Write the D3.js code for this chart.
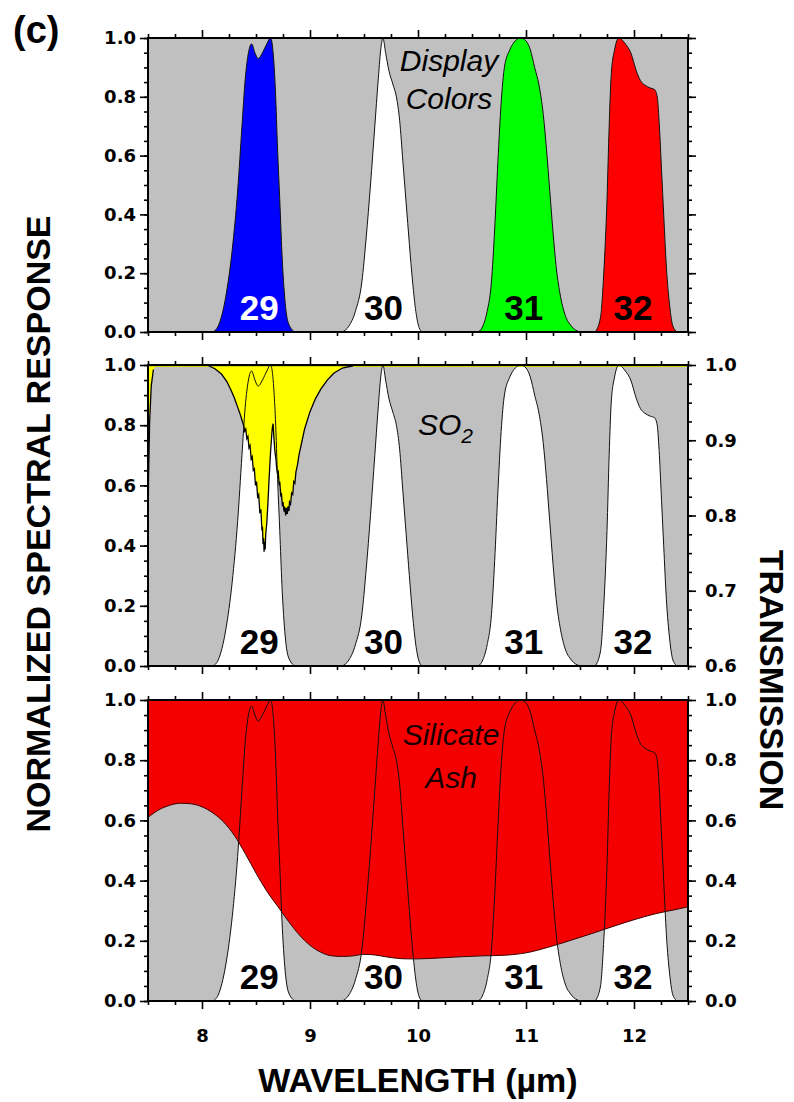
<!DOCTYPE html>
<html><head><meta charset="utf-8">
<script src="https://cdn.jsdelivr.net/npm/d3@7"></script>
<style>body{margin:0;background:#fff}svg{display:block}</style>
</head><body>
<svg id="c" width="794" height="1102"></svg>
<script>
// ---------- DATA ----------
const bandNames = ["29", "30", "31", "32"];
// normalized spectral response [wavelength µm, response]
const band29 = [[8.10,0],[8.15,0.02],[8.22,0.12],[8.28,0.28],[8.33,0.48],[8.37,0.70],[8.40,0.86],[8.43,0.95],[8.46,0.98],[8.49,0.95],[8.52,0.93],[8.56,0.95],[8.60,0.98],[8.635,1.0],[8.665,0.92],[8.68,0.82],[8.70,0.62],[8.72,0.45],[8.74,0.27],[8.77,0.10],[8.80,0.03],[8.86,0]];
const band30 = [[9.30,0],[9.36,0.02],[9.42,0.07],[9.48,0.17],[9.52,0.32],[9.56,0.50],[9.60,0.70],[9.63,0.85],[9.655,0.96],[9.675,1.0],[9.70,0.95],[9.73,0.89],[9.77,0.84],[9.80,0.80],[9.83,0.72],[9.86,0.58],[9.89,0.44],[9.92,0.30],[9.95,0.17],[9.98,0.07],[10.01,0.015],[10.04,0]];
const band31 = [[10.56,0],[10.60,0.02],[10.64,0.07],[10.68,0.17],[10.71,0.35],[10.74,0.58],[10.77,0.78],[10.80,0.90],[10.85,0.96],[10.90,0.99],[10.95,1.0],[11.0,0.99],[11.04,0.96],[11.08,0.90],[11.12,0.84],[11.16,0.74],[11.19,0.62],[11.22,0.48],[11.25,0.34],[11.28,0.22],[11.32,0.12],[11.36,0.06],[11.42,0.02],[11.50,0]];
const band32 = [[11.64,0],[11.69,0.05],[11.72,0.20],[11.75,0.45],[11.77,0.70],[11.79,0.88],[11.82,0.96],[11.86,1.0],[11.92,0.98],[11.97,0.95],[12.02,0.89],[12.06,0.855],[12.10,0.84],[12.15,0.83],[12.19,0.825],[12.215,0.80],[12.235,0.70],[12.255,0.55],[12.275,0.40],[12.30,0.22],[12.33,0.09],[12.36,0.02],[12.40,0]];
const bandLabelAt = [8.53, 9.68, 10.98, 11.99];
const displayColors = ["#0000ff", "#ffffff", "#00ff00", "#ff0000"];
const displayLabelColors = ["#ffffff", "#000000", "#000000", "#000000"];

// SO2 transmission [wavelength µm, transmission]
const so2Trans = [[7.50,0.78],[7.505,0.85],[7.515,0.925],[7.53,0.972],[7.55,0.994],[7.58,1.0],[8.0,1.0],
  [8.06,0.999],[8.12,0.995],[8.18,0.988],[8.23,0.978],[8.27,0.966],[8.30,0.956],[8.33,0.944],[8.35,0.936],[8.37,0.927],
  [8.385,0.92],[8.395,0.912],[8.405,0.915],[8.415,0.902],[8.425,0.905],[8.435,0.89],[8.445,0.893],[8.455,0.875],
  [8.465,0.878],[8.475,0.86],[8.485,0.862],[8.495,0.84],[8.505,0.845],[8.515,0.825],[8.525,0.828],[8.535,0.805],
  [8.545,0.808],[8.555,0.78],[8.56,0.785],[8.565,0.762],[8.57,0.77],[8.575,0.752],[8.58,0.765],[8.585,0.755],
  [8.59,0.775],[8.60,0.79],[8.61,0.815],[8.62,0.845],[8.635,0.885],[8.65,0.915],[8.658,0.922],
  [8.665,0.905],[8.675,0.885],[8.685,0.875],[8.69,0.865],[8.70,0.855],[8.705,0.86],[8.715,0.84],[8.72,0.845],
  [8.73,0.825],[8.735,0.83],[8.745,0.812],[8.75,0.818],[8.76,0.805],[8.765,0.812],[8.775,0.80],[8.78,0.81],
  [8.79,0.802],[8.795,0.812],[8.805,0.806],[8.81,0.818],[8.82,0.815],[8.83,0.83],[8.84,0.828],[8.85,0.845],
  [8.86,0.843],[8.87,0.858],[8.885,0.868],[8.90,0.882],[8.92,0.895],[8.95,0.915],[9.0,0.938],[9.05,0.955],
  [9.10,0.968],[9.16,0.98],[9.22,0.989],[9.30,0.996],[9.40,0.999],[9.50,1.0],[12.5,1.0]];

// Silicate ash transmission [wavelength µm, transmission]
const ashTrans = [[7.5,0.61],[7.6,0.635],[7.7,0.65],[7.8,0.657],[7.9,0.655],[8.0,0.645],[8.1,0.625],[8.2,0.595],[8.3,0.55],[8.4,0.49],[8.5,0.425],[8.6,0.365],[8.7,0.315],[8.8,0.265],[8.9,0.22],[9.0,0.185],[9.1,0.162],[9.2,0.15],[9.3,0.148],[9.4,0.15],[9.5,0.155],[9.6,0.153],[9.7,0.147],[9.8,0.142],[9.9,0.14],[10.0,0.14],[10.2,0.143],[10.4,0.147],[10.6,0.15],[10.8,0.152],[11.0,0.16],[11.2,0.178],[11.4,0.2],[11.6,0.223],[11.8,0.247],[12.0,0.27],[12.2,0.29],[12.4,0.305],[12.5,0.313]];

const xTickValues = [8, 9, 10, 11, 12];
const responseTicks = [0, 0.2, 0.4, 0.6, 0.8, 1.0];
const so2Ticks = [0.6, 0.7, 0.8, 0.9, 1.0];
const ashTicks = [0, 0.2, 0.4, 0.6, 0.8, 1.0];

// ---------- LAYOUT ----------
const svg = d3.select("#c");
const X0 = 148, X1 = 688;
const x = d3.scaleLinear().domain([7.5, 12.5]).range([X0, X1]);
const panels = [{top: 38, bottom: 332}, {top: 365, bottom: 666}, {top: 700, bottom: 1001}];
const bands = [band29, band30, band31, band32];
const GRAY = "#c0c0c0";
const tickFont = "'DejaVu Sans', sans-serif";
const titleFont = "'Liberation Sans', Arial, sans-serif";

const xMinor = d3.range(7.5, 12.501, 0.25).filter(v => Math.abs(v - Math.round(v)) > 1e-6);
const yMinor = d3.range(0, 1.0001, 0.05);

function styleAxis(g, labels) {
  g.select(".domain").remove();
  g.selectAll(".tick line").attr("stroke", "#000").attr("stroke-width", 1.6);
  g.selectAll(".tick text").attr("font-family", tickFont).attr("font-weight", "bold")
    .attr("font-size", 18).attr("fill", "#000");
  if (!labels) g.selectAll(".tick text").remove();
}

panels.forEach((p, i) => {
  const y = d3.scaleLinear().domain([0, 1]).range([p.bottom, p.top]);
  const clipId = "clip" + i;
  svg.append("clipPath").attr("id", clipId).append("rect")
    .attr("x", X0).attr("y", p.top).attr("width", X1 - X0).attr("height", p.bottom - p.top);
  const pg = svg.append("g").attr("clip-path", `url(#${clipId})`);
  pg.append("rect").attr("x", X0).attr("y", p.top).attr("width", X1 - X0)
    .attr("height", p.bottom - p.top).attr("fill", GRAY);

  const bandArea = d3.area().x(d => x(d[0])).y0(y(0)).y1(d => y(d[1])).curve(d3.curveMonotoneX);
  const bandLine = d3.line().x(d => x(d[0])).y(d => y(d[1])).curve(d3.curveMonotoneX);

  bands.forEach((b, k) => {
    pg.append("path").attr("d", bandArea(b)).attr("fill", i === 0 ? displayColors[k] : "#ffffff");
  });

  if (i === 1) {
    const yT = d3.scaleLinear().domain([0.6, 1.0]).range([p.bottom, p.top]);
    const so2Area = d3.area().x(d => x(d[0])).y0(p.top).y1(d => yT(d[1])).curve(d3.curveLinear);
    pg.append("path").attr("d", so2Area(so2Trans)).attr("fill", "#ffff00");
    pg.append("line").attr("x1", X0).attr("x2", X1).attr("y1", p.top + 1.5).attr("y2", p.top + 1.5)
      .attr("stroke", "#d4d400").attr("stroke-width", 1.2);
    const so2Line = d3.line().defined(d => d[1] < 0.9995).x(d => x(d[0])).y(d => yT(d[1])).curve(d3.curveLinear);
    pg.append("path").attr("d", so2Line(so2Trans))
      .attr("fill", "none").attr("stroke", "#000").attr("stroke-width", 1.3);
  }
  if (i === 2) {
    const ashArea = d3.area().x(d => x(d[0])).y0(y(1)).y1(d => y(d[1])).curve(d3.curveMonotoneX);
    pg.append("path").attr("d", ashArea(ashTrans)).attr("fill", "#f50000");
    pg.append("path").attr("d", bandLine(ashTrans)).attr("fill", "none")
      .attr("stroke", "#3a0000").attr("stroke-width", 1);
  }

  bands.forEach(b => {
    pg.append("path").attr("d", bandLine(b)).attr("fill", "none")
      .attr("stroke", "#111").attr("stroke-width", 1);
  });

  // band number labels
  bandNames.forEach((n, k) => {
    svg.append("text").attr("x", x(bandLabelAt[k])).attr("y", p.bottom - 12)
      .attr("text-anchor", "middle").attr("font-family", titleFont).attr("font-weight", "bold")
      .attr("font-size", 35).attr("fill", i === 0 ? displayLabelColors[k] : "#000").text(n);
  });

  // axes
  const top = svg.append("g").attr("transform", `translate(0,${p.top})`);
  top.append("g").call(d3.axisTop(x).tickValues(xTickValues).tickSize(8)).call(g => styleAxis(g, false));
  top.append("g").call(d3.axisTop(x).tickValues(xMinor).tickSize(4)).call(g => styleAxis(g, false));
  const bot = svg.append("g").attr("transform", `translate(0,${p.bottom})`);
  bot.append("g").call(d3.axisBottom(x).tickValues(xTickValues).tickSize(8).tickPadding(20).tickFormat(d3.format("d")))
    .call(g => styleAxis(g, i === 2));
  bot.append("g").call(d3.axisBottom(x).tickValues(xMinor).tickSize(4)).call(g => styleAxis(g, false));

  const left = svg.append("g").attr("transform", `translate(${X0},0)`);
  left.append("g").call(d3.axisLeft(y).tickValues(responseTicks).tickSize(8).tickPadding(4).tickFormat(d3.format(".1f")))
    .call(g => styleAxis(g, true));
  left.append("g").call(d3.axisLeft(y).tickValues(yMinor).tickSize(4)).call(g => styleAxis(g, false));

  const right = svg.append("g").attr("transform", `translate(${X1},0)`);
  if (i === 1) {
    const yT = d3.scaleLinear().domain([0.6, 1.0]).range([p.bottom, p.top]);
    right.append("g").call(d3.axisRight(yT).tickValues(so2Ticks).tickSize(8).tickPadding(9).tickFormat(d3.format(".1f")))
      .call(g => styleAxis(g, true));
    right.append("g").call(d3.axisRight(yT).tickValues(d3.range(0.6, 1.0001, 0.025)).tickSize(4)).call(g => styleAxis(g, false));
  } else {
    right.append("g").call(d3.axisRight(y).tickValues(i === 2 ? ashTicks : responseTicks).tickSize(8).tickPadding(9).tickFormat(d3.format(".1f")))
      .call(g => styleAxis(g, i === 2));
    right.append("g").call(d3.axisRight(y).tickValues(yMinor).tickSize(4)).call(g => styleAxis(g, false));
  }

  svg.append("rect").attr("x", X0).attr("y", p.top).attr("width", X1 - X0).attr("height", p.bottom - p.top)
    .attr("fill", "none").attr("stroke", "#000").attr("stroke-width", 2);
});

// panel annotations
const ann = svg.append("g").attr("font-family", titleFont).attr("font-style", "italic").attr("font-size", 30);
ann.append("text").attr("x", 449).attr("y", 71).attr("text-anchor", "middle").text("Display");
ann.append("text").attr("x", 449).attr("y", 109).attr("text-anchor", "middle").text("Colors");
const so2 = ann.append("text").attr("x", 418).attr("y", 435);
so2.append("tspan").text("SO");
so2.append("tspan").attr("font-size", 21).attr("dy", 8).text("2");
ann.append("text").attr("x", 451).attr("y", 745).attr("text-anchor", "middle").attr("fill", "#1a0000").text("Silicate");
ann.append("text").attr("x", 451).attr("y", 788).attr("text-anchor", "middle").attr("fill", "#1a0000").text("Ash");

// titles
svg.append("text").attr("x", 13).attr("y", 43).attr("font-family", titleFont).attr("font-weight", "bold")
  .attr("font-size", 38).text("(c)");
svg.append("text").attr("transform", "translate(50,524) rotate(-90)").attr("text-anchor", "middle")
  .attr("font-family", titleFont).attr("font-weight", "bold").attr("font-size", 34).text("NORMALIZED SPECTRAL RESPONSE");
svg.append("text").attr("transform", "translate(760,680) rotate(90)").attr("text-anchor", "middle")
  .attr("font-family", titleFont).attr("font-weight", "bold").attr("font-size", 34).text("TRANSMISSION");
svg.append("text").attr("x", 418).attr("y", 1092).attr("text-anchor", "middle")
  .attr("font-family", titleFont).attr("font-weight", "bold").attr("font-size", 34).text("WAVELENGTH (µm)");
</script>
</body></html>
